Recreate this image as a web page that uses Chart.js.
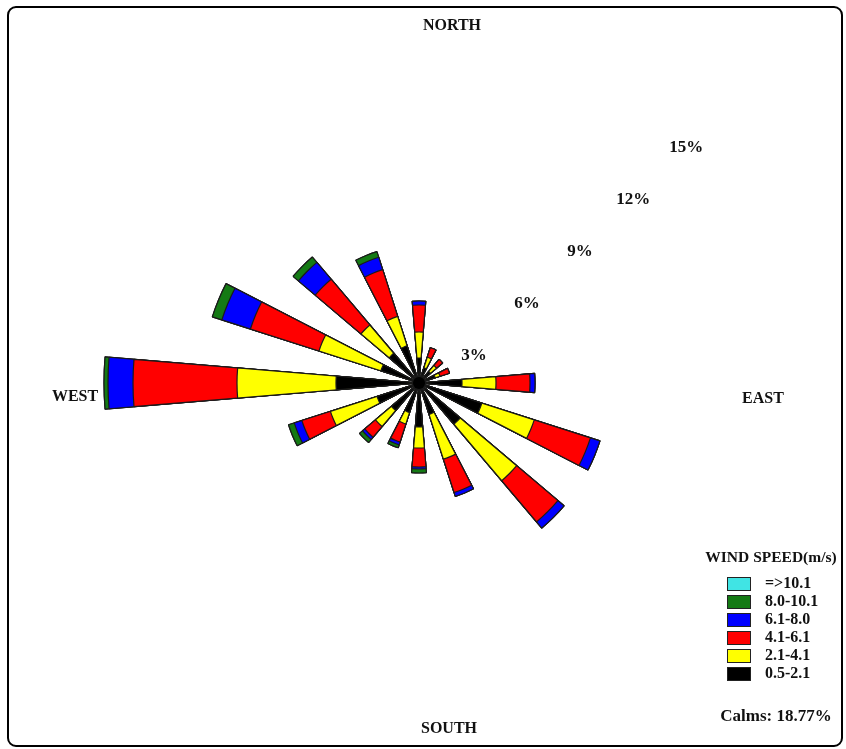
<!DOCTYPE html>
<html lang="en">
<head>
<meta charset="UTF-8" />
<title>Wind Rose</title>
<script src="https://cdn.jsdelivr.net/npm/chart.js@4.4.1/dist/chart.umd.min.js"></script>
<style>
  html, body { margin: 0; padding: 0; background: #fff; }
  canvas { position: absolute; left: 0; top: 0; }
  #frame {
    position: absolute; left: 7px; top: 6px; width: 836px; height: 741px;
    box-sizing: border-box; border: 2px solid #000; border-radius: 9px;
    pointer-events: none;
  }
</style>
</head>
<body>
<canvas id="rose" width="846" height="749"></canvas>
<div id="frame"></div>
<script>
  // 16 directions, clockwise from north
  const directions = ["N", "NNE", "NE", "ENE", "E", "ESE", "SE", "SSE",
                      "S", "SSW", "SW", "WSW", "W", "WNW", "NW", "NNW"];

  const speedBins = ["0.5-2.1", "2.1-4.1", "4.1-6.1", "6.1-8.0", "8.0-10.1", "=>10.1"];
  const binColors = ["#000000", "#ffff00", "#ff0000", "#0000ff", "#147a14", "#40e4e4"];

  // frequency (%) of each speed class per direction
  const speed05_21  = [1.00, 0.64, 0.60, 0.68, 1.72, 2.64, 2.16, 1.32, 1.76, 1.24, 1.44, 1.76, 3.32, 1.60, 1.56, 1.56];
  const speed21_41  = [1.04, 0.44, 0.32, 0.20, 1.36, 2.20, 2.96, 1.88, 0.84, 0.48, 0.84, 1.96, 3.96, 2.60, 1.48, 1.24];
  const speed41_61  = [1.08, 0.40, 0.32, 0.40, 1.36, 2.36, 2.16, 1.40, 0.76, 0.76, 0.56, 1.20, 4.16, 2.88, 2.40, 1.96];
  const speed61_80  = [0.16, 0.00, 0.00, 0.00, 0.20, 0.40, 0.32, 0.16, 0.08, 0.12, 0.12, 0.32, 1.00, 1.20, 0.88, 0.52];
  const speed80_101 = [0.00, 0.00, 0.00, 0.00, 0.00, 0.00, 0.00, 0.00, 0.16, 0.12, 0.16, 0.24, 0.16, 0.40, 0.28, 0.24];
  const speed101    = [0, 0, 0, 0, 0, 0, 0, 0, 0, 0, 0, 0, 0, 0, 0, 0];

  const ringValues = [3, 6, 9, 12, 15];
  const calms = "Calms: 18.77%";

  const PETAL = 9.5;           // degrees of each petal
  const GAP = 22.5 - PETAL;    // empty sector between petals

  const bins = [speed05_21, speed21_41, speed41_61, speed61_80, speed80_101, speed101];

  // each petal is followed by an empty gap sector
  const labels = [];
  directions.forEach(d => labels.push(d, ""));

  const running = directions.map(() => 0);
  const datasets = bins.map((bin, k) => {
    const data = [];
    bin.forEach((v, i) => {
      running[i] += v;
      data.push(+running[i].toFixed(2), 0);
    });
    return {
      label: speedBins[k],
      data: data,
      backgroundColor: binColors[k],
      borderColor: "#1a1a1a",
      borderWidth: c => (c.dataIndex % 2 ? 0 : 1.2),
      angle: c => (c.dataIndex % 2 ? GAP : PETAL)
    };
  });

  const serif = '"Liberation Serif", "Times New Roman", serif';

  const overlay = {
    id: "overlay",
    afterDatasetsDraw(chart) {
      const s = chart.scales.r;
      const ctx = chart.ctx;
      ctx.save();
      ctx.fillStyle = "#000";
      ctx.beginPath();
      ctx.arc(s.xCenter, s.yCenter, 6, 0, Math.PI * 2);
      ctx.fill();
      ctx.restore();
    },
    afterDraw(chart) {
      const s = chart.scales.r;
      const ctx = chart.ctx;
      ctx.save();
      ctx.fillStyle = "#111";
      ctx.textBaseline = "middle";
      ctx.textAlign = "center";

      ctx.font = "bold 16px " + serif;
      ctx.fillText("NORTH", 452, 26);
      ctx.fillText("SOUTH", 449, 729);
      ctx.fillText("EAST", 763, 399);
      ctx.fillText("WEST", 75, 397);

      // ring labels along the north-east diagonal
      ctx.font = "bold 17px " + serif;
      const a = Math.PI / 4;
      ringValues.forEach(v => {
        const r = s.getDistanceFromCenterForValue(v);
        ctx.fillText(v + "%", s.xCenter + r * Math.cos(a) + 2, s.yCenter - r * Math.sin(a) + 25 + v * 0.3);
      });

      // legend
      ctx.font = "bold 15.5px " + serif;
      ctx.fillText("WIND SPEED(m/s)", 771, 558);
      ctx.textAlign = "left";
      ctx.font = "bold 16px " + serif;
      for (let i = 0; i < speedBins.length; i++) {
        const k = speedBins.length - 1 - i;
        const y = 584 + i * 18;
        ctx.fillStyle = binColors[k];
        ctx.fillRect(727, y - 7, 24, 14);
        ctx.strokeStyle = "#222";
        ctx.lineWidth = 1;
        ctx.strokeRect(727.5, y - 6.5, 23, 13);
        ctx.fillStyle = "#111";
        ctx.fillText(speedBins[k], 765, y);
      }
      ctx.textAlign = "center";
      ctx.font = "bold 17px " + serif;
      ctx.fillText(calms, 776, 717);
      ctx.restore();
    }
  };

  new Chart(document.getElementById("rose"), {
    type: "polarArea",
    data: { labels: labels, datasets: datasets },
    options: {
      responsive: false,
      animation: false,
      layout: { padding: { left: 69, right: 77, top: 33, bottom: 16 } },
      plugins: { legend: { display: false }, tooltip: { enabled: false } },
      scales: {
        r: {
          min: 0,
          max: 14,
          startAngle: -PETAL / 2,
          ticks: { display: false },
          grid: { display: false },
          angleLines: { display: false },
          pointLabels: { display: false }
        }
      }
    },
    plugins: [overlay]
  });
</script>
</body>
</html>
